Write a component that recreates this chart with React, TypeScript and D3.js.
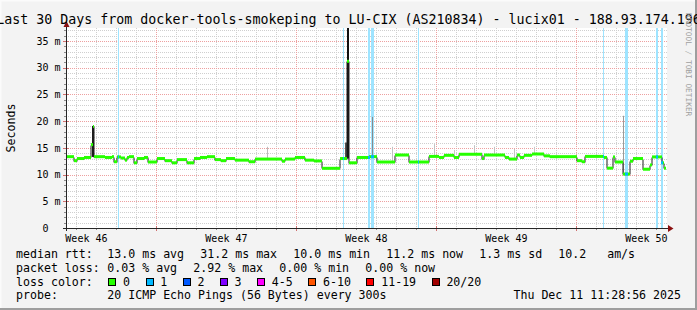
import React from 'react';
import * as d3 from 'd3';

const W = 697;
const H = 310;
const FONT = '"DejaVu Sans Mono", monospace';

const titleText = 'Last 30 Days from docker-tools-smokeping to LU-CIX (AS210834) - lucix01 - 188.93.174.196';
const yAxisTitle = 'Seconds';
const watermark = 'RRDTOOL / TOBI OETIKER';

const yTicks = [0, 5, 10, 15, 20, 25, 30, 35];
const yTickLabels = ['0  ', '5 m', '10 m', '15 m', '20 m', '25 m', '30 m', '35 m'];
const weekLabels = ['Week 46', 'Week 47', 'Week 48', 'Week 49', 'Week 50'];

// median rtt (ms), step starts in days since start of graph
const medianDay = [
  0.0, 0.4, 0.55, 0.9, 1.25, 1.35, 1.4, 1.95, 2.3, 2.4, 2.55, 2.75, 2.95, 3.05, 3.15, 3.4, 3.55, 3.9,
  4.1, 4.55, 4.95, 5.3, 5.55, 6.05, 6.4, 6.7, 7.05, 7.45, 7.75, 8.0, 8.45, 9.15, 9.45, 10.8, 10.95,
  11.45, 11.95, 12.4, 12.8, 13.7, 14.05, 14.15, 14.55, 15.15, 15.55, 16.45, 17.15, 18.15, 18.65, 18.9,
  19.4, 19.65, 20.8, 20.9, 21.95, 22.15, 22.55, 22.7, 22.9, 23.3, 23.9, 24.2, 25.55, 25.8, 25.95, 26.9,
  27.05, 27.35, 27.45, 27.85, 28.2, 28.35, 28.85, 29.2, 29.3, 29.8, 29.9,
];
const medianMs = [
  13.35, 12.6, 13.0, 13.2, 15.6, 19.0, 13.35, 13.2, 13.35, 12.4, 13.3, 13.1, 12.7, 13.2, 13.35, 12.2, 13.0, 13.2,
  12.35, 13.0, 12.6, 12.2, 12.8, 12.2, 13.0, 13.2, 13.35, 12.8, 12.6, 13.0, 12.7, 12.4, 12.9, 12.5, 12.9,
  13.2, 12.7, 12.55, 11.17, 13.0, 31.2, 12.2, 13.2, 13.35, 12.35, 13.66, 12.35, 13.4, 13.2, 13.6,
  13.2, 13.8, 13.0, 13.66, 13.2, 12.9, 13.66, 13.2, 13.6, 13.85, 13.5, 13.35, 12.6, 12.4, 13.4, 13.2,
  11.2, 13.3, 12.35, 10.1, 12.5, 13.0, 11.0, 11.8, 13.3, 12.2, 11.2,
];

// packet loss periods (days since start) and lost pings
const lossStart = [2.58, 13.86, 15.1, 15.25, 17.59, 26.85, 27.95, 29.52, 29.75];
const lossEnd = [2.63, 13.91, 15.18, 15.4, 17.64, 26.9, 28.1, 29.62, 29.85];
const lossCount = [1, 1, 1, 1, 1, 1, 1, 1, 1];

// smoke (ping spread) spikes
const smokeDay = [1.29, 14.04, 13.97, 15.3, 10.05, 16.3, 18.4, 19.4, 20.4, 21.4, 22.4, 23.4, 27.87];
const smokeSpan = [0.1, 0.1, 0.06, 0.05, 0.05, 0.05, 0.05, 0.05, 0.05, 0.05, 0.05, 0.05, 0.05];
const smokeLo = [13.3, 13.0, 13.0, 13.3, 12.9, 12.4, 13.4, 13.2, 13.8, 13.66, 12.9, 13.85, 10.1];
const smokeHi = [19.1, 37.5, 16.0, 20.8, 15.2, 15.2, 15.7, 14.6, 15.5, 15.2, 14.8, 15.2, 21.0];
const smokeTone = ['#1a1a1a', '#111111', '#555555', '#8a8a8a', '#bbbbbb', '#c2c2c2', '#c2c2c2', '#c8c8c8', '#c2c2c2', '#c2c2c2', '#c2c2c2', '#c8c8c8', '#9a9a9a'];

const rttLabel = 'median rtt:';
const rttItems = ['13.0 ms avg', '31.2 ms max', '10.0 ms min', '11.2 ms now', '1.3 ms sd', '10.2   am/s'];
const lossLabel = 'packet loss:';
const lossItems = ['0.03 % avg', '2.92 % max', '0.00 % min', '0.00 % now'];
const lossColorLabel = 'loss color:';
const lossLegendLabels = ['0', '1', '2', '3', '4-5', '6-10', '11-19', '20/20'];
const lossLegendColors = ['#26ff00', '#00b8ff', '#0059ff', '#7e00ff', '#ff00ff', '#ff5500', '#ff0000', '#a10000'];
const lossLegendMin = [0, 1, 2, 3, 4, 6, 11, 20];
const probeLabel = 'probe:';
const probeText = '20 ICMP Echo Pings (56 Bytes) every 300s';
const dateText = 'Thu Dec 11 11:28:56 2025';

const T0 = Date.UTC(2025, 10, 11, 11, 28, 56);
const DAY = 864e5;
const tStart = new Date(T0);
const tEnd = new Date(T0 + 30 * DAY);

const x = d3.scaleUtc().domain([tStart, tEnd]).range([66, 666]);
const y = d3.scaleLinear().domain([0, 37.43]).range([228, 28]);
const xd = (d: number) => x(new Date(T0 + d * DAY));
const crisp = (v: number) => Math.round(v) + 0.5;

function lossColor(n: number) {
  let c = lossLegendColors[0];
  lossLegendMin.forEach((m, i) => {
    if (n >= m) c = lossLegendColors[i];
  });
  return c;
}
function medianAt(d: number) {
  let v = medianMs[0];
  medianDay.forEach((md, i) => {
    if (md <= d) v = medianMs[i];
  });
  return v;
}

export default function App() {
  const plotTop = y(37.43);
  const plotBottom = y(0);
  const xL = x.range()[0];
  const xR = x.range()[1];

  const minorY = d3.range(1, 38).filter((v) => v % 5 !== 0 && y(v) >= plotTop);
  const majorY = yTicks.filter((v) => v > 0);
  const sundays = d3.utcSunday.range(tStart, tEnd);
  const days = d3.utcDay.range(tStart, tEnd).filter((d) => d.getUTCDay() !== 0);
  const labelWeeks = d3.utcSunday.range(new Date(T0 - 7 * DAY), tEnd).map((d) => new Date(+d + 3.5 * DAY));

  const pts: [number, number][] = medianDay.map((d, i) => [d, medianMs[i]]);
  pts.push([30, medianMs[medianMs.length - 1]]);
  const stepPath = d3
    .line<[number, number]>()
    .x((p) => xd(p[0]))
    .y((p) => Math.round(y(p[1])) + 0.5)
    .curve(d3.curveStepAfter)(pts);

  const cw = 7.0;
  const gap = 16;
  const itemX0 = 107.3;
  const rowY = (i: number) => 258.4 + 13.6 * i;
  const layout = (items: string[]) => {
    let cx = itemX0;
    return items.map((s) => {
      const px = cx;
      cx += s.length * cw + gap;
      return px;
    });
  };
  const rttX = layout(rttItems);
  const lossX = layout(lossItems);
  let bx = 108.3;
  const boxX = lossLegendLabels.map((s) => {
    const px = bx;
    bx = px + 14.7 + s.length * cw + 15.5;
    return px;
  });

  const textStyle: React.CSSProperties = { whiteSpace: 'pre' };

  return (
    <svg width={W} height={H} style={{ position: 'absolute', left: 0, top: 0 }} fontFamily={FONT}>
      <rect x={0} y={0} width={W} height={H} fill="#f3f3f3" />
      <rect x={0} y={0} width={W} height={1.5} fill="#fbfbfb" />
      <rect x={0} y={0} width={1.5} height={H} fill="#fbfbfb" />
      <rect x={0} y={H - 2} width={W} height={2} fill="#9e9e9e" />
      <rect x={W - 2} y={0} width={2} height={H} fill="#9e9e9e" />

      {/* canvas */}
      <rect x={xL} y={plotTop} width={xR - xL + 1} height={plotBottom - plotTop} fill="#ffffff" />

      {/* grid */}
      {minorY.map((v) => (
        <line key={'my' + v} x1={xL} x2={xR + 1} y1={crisp(y(v))} y2={crisp(y(v))} stroke="#cfcfcf" strokeDasharray="1,1" />
      ))}
      {days.map((d) => (
        <line key={'mx' + +d} x1={crisp(x(d))} x2={crisp(x(d))} y1={plotTop} y2={plotBottom} stroke="#cfcfcf" strokeDasharray="1,1" />
      ))}
      {majorY.map((v) => (
        <line key={'My' + v} x1={xL} x2={xR + 1} y1={crisp(y(v))} y2={crisp(y(v))} stroke="#eda0a0" strokeDasharray="1,1" />
      ))}
      {sundays.map((d) => (
        <line key={'Mx' + +d} x1={crisp(x(d))} x2={crisp(x(d))} y1={plotTop} y2={plotBottom} stroke="#eda0a0" strokeDasharray="1,1" />
      ))}

      {/* loss background */}
      {lossStart.map((s, i) => {
        const a = Math.round(xd(s));
        const b = Math.max(a + 1, Math.round(xd(lossEnd[i])));
        return (
          <rect key={'lb' + i} x={a} y={plotTop} width={b - a} height={plotBottom - plotTop}
            fill={d3.interpolateRgb(lossColor(lossCount[i]), '#ffffff')(0.62)} />
        );
      })}

      {/* smoke */}
      {smokeDay.map((d, i) => {
        const a = Math.round(xd(d));
        const b = Math.max(a + 1, Math.round(xd(d + smokeSpan[i])));
        const top = Math.max(plotTop, y(smokeHi[i]));
        return <rect key={'sm' + i} x={a} y={top} width={b - a} height={y(smokeLo[i]) - top} fill={smokeTone[i]} />;
      })}

      {/* median step */}
      <path d={stepPath || ''} fill="none" stroke="#1e1e1e" strokeWidth={1} />
      {medianDay.map((d, i) => {
        const a = xd(d);
        const b = xd(i + 1 < medianDay.length ? medianDay[i + 1] : 30);
        const yc = y(medianMs[i]);
        return <rect key={'md' + i} x={a} y={yc - 1.5} width={b - a} height={3} fill={lossColor(0)} />;
      })}
      {lossStart.map((s, i) => {
        const a = Math.round(xd(s));
        const b = Math.max(a + 1, Math.round(xd(lossEnd[i])));
        const yc = y(medianAt((s + lossEnd[i]) / 2));
        return <rect key={'ml' + i} x={a} y={yc - 1.5} width={b - a} height={3} fill={lossColor(lossCount[i])} />;
      })}

      {/* axes */}
      {days.map((d) => (
        <line key={'tx' + +d} x1={crisp(x(d))} x2={crisp(x(d))} y1={228} y2={230} stroke="#8c8c8c" />
      ))}
      {sundays.map((d) => (
        <line key={'Tx' + +d} x1={crisp(x(d))} x2={crisp(x(d))} y1={226} y2={231} stroke="#d07070" />
      ))}
      {minorY.map((v) => (
        <line key={'ty' + v} x1={64} x2={66} y1={crisp(y(v))} y2={crisp(y(v))} stroke="#8c8c8c" />
      ))}
      {majorY.map((v) => (
        <line key={'Ty' + v} x1={63} x2={69} y1={crisp(y(v))} y2={crisp(y(v))} stroke="#d07070" />
      ))}
      <line x1={63} x2={670} y1={crisp(y(0))} y2={crisp(y(0))} stroke="#262626" />
      <line x1={crisp(xL)} x2={crisp(xL)} y1={231} y2={24} stroke="#262626" />
      <path d="M668,225 L673.5,228.5 L668,232 Z" fill="#8b1010" />
      <path d="M63.5,27 L66.5,21 L69.5,27 Z" fill="#8b1010" />

      {/* y tick labels */}
      {yTicks.map((v, i) => (
        <text key={'yl' + v} x={60.6} y={y(v) + 3.7} fontSize={10} textAnchor="end" style={textStyle} fill="#000">
          {yTickLabels[i]}
        </text>
      ))}
      {/* week labels */}
      {labelWeeks.map((d, i) => (
        <text key={'wl' + i} x={x(d)} y={241.5} fontSize={10} textAnchor="middle" fill="#000">
          {weekLabels[i]}
        </text>
      ))}

      {/* titles */}
      <text x={W / 2} y={23.6} fontSize={13.3} textAnchor="middle" fill="#000" style={textStyle}>{titleText}</text>
      <text transform="translate(14.5,128) rotate(-90)" fontSize={11.6} textAnchor="middle" fill="#000">{yAxisTitle}</text>
      <text transform="translate(685.5,13) rotate(90)" fontSize={7.8} fill="#a0a0a0" style={textStyle}>{watermark}</text>

      {/* legend */}
      <text x={16} y={rowY(0)} fontSize={11.6} style={textStyle}>{rttLabel}</text>
      {rttItems.map((s, i) => (
        <text key={'r' + i} x={rttX[i]} y={rowY(0)} fontSize={11.6} style={textStyle}>{s}</text>
      ))}
      <text x={16} y={rowY(1)} fontSize={11.6} style={textStyle}>{lossLabel}</text>
      {lossItems.map((s, i) => (
        <text key={'p' + i} x={lossX[i]} y={rowY(1)} fontSize={11.6} style={textStyle}>{s}</text>
      ))}
      <text x={16} y={rowY(2)} fontSize={11.6} style={textStyle}>{lossColorLabel}</text>
      {lossLegendLabels.map((s, i) => (
        <g key={'lc' + i}>
          <rect x={Math.round(boxX[i]) + 0.5} y={278.5} width={7} height={7} fill={lossLegendColors[i]} stroke="#000" />
          <text x={boxX[i] + 14.7} y={rowY(2)} fontSize={11.6} style={textStyle}>{s}</text>
        </g>
      ))}
      <text x={16} y={rowY(3)} fontSize={11.6} style={textStyle}>{probeLabel}</text>
      <text x={itemX0} y={rowY(3)} fontSize={11.6} style={textStyle}>{probeText}</text>
      <text x={681} y={rowY(3)} fontSize={11.6} textAnchor="end" style={textStyle}>{dateText}</text>
    </svg>
  );
}
